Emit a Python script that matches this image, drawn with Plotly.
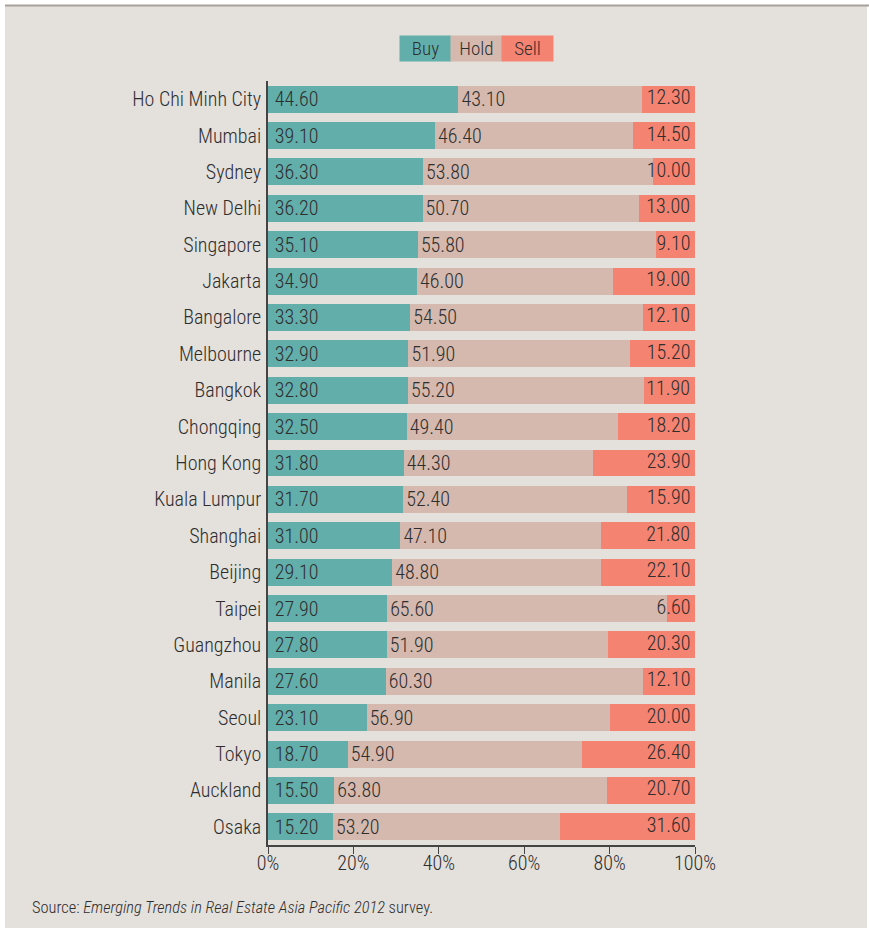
import plotly.graph_objects as go

cities = ["Ho Chi Minh City", "Mumbai", "Sydney", "New Delhi", "Singapore", "Jakarta",
          "Bangalore", "Melbourne", "Bangkok", "Chongqing", "Hong Kong", "Kuala Lumpur",
          "Shanghai", "Beijing", "Taipei", "Guangzhou", "Manila", "Seoul", "Tokyo",
          "Auckland", "Osaka"]
buy = [44.60, 39.10, 36.30, 36.20, 35.10, 34.90, 33.30, 32.90, 32.80, 32.50, 31.80,
       31.70, 31.00, 29.10, 27.90, 27.80, 27.60, 23.10, 18.70, 15.50, 15.20]
hold = [43.10, 46.40, 53.80, 50.70, 55.80, 46.00, 54.50, 51.90, 55.20, 49.40, 44.30,
        52.40, 47.10, 48.80, 65.60, 51.90, 60.30, 56.90, 54.90, 63.80, 53.20]
sell = [12.30, 14.50, 10.00, 13.00, 9.10, 19.00, 12.10, 15.20, 11.90, 18.20, 23.90,
        15.90, 21.80, 22.10, 6.60, 20.30, 12.10, 20.00, 26.40, 20.70, 31.60]
x_ticks = [0, 20, 40, 60, 80, 100]

colors = {"Buy": "#62aeab", "Hold": "#d5b9ae", "Sell": "#f58371"}
FONT = "Roboto Condensed, DejaVu Sans Condensed, Liberation Sans Narrow, Roboto, sans-serif"
TXT = "#2e2e2e"
BG = "#e4e0dc"
WEIGHT = 300

W, H = 869, 928
L, R, T, B = 268, 174, 81, 83
pw, ph = W - L - R, H - T - B


def px_x(p):
    return (p - L) / pw


def px_y(p):
    return (H - B - p) / ph


def tfont(size):
    return dict(family=FONT, size=size, color=TXT, weight=WEIGHT)


fig = go.Figure()
for name, vals, tmpl in [("Buy", buy, "\u2009%{x:.2f}"), ("Hold", hold, "%{x:.2f}")]:
    fig.add_trace(go.Bar(
        y=cities, x=vals, name=name, orientation="h",
        marker=dict(color=colors[name], line=dict(width=0)),
        texttemplate=tmpl, textposition="inside", insidetextanchor="start",
        constraintext="none", insidetextfont=tfont(20),
        showlegend=False,
    ))
fig.add_trace(go.Bar(
    y=cities, x=sell, name="Sell", orientation="h",
    marker=dict(color=colors["Sell"], line=dict(width=0)),
    textposition="none", showlegend=False,
))
# sell labels sit right-aligned at the end of each stack (they may overflow into Hold);
# a few rows sum to 100.1 because of rounding, so pin them to the 100% edge
ends = [min(b + h + s, 100) for b, h, s in zip(buy, hold, sell)]
fig.add_trace(go.Scatter(
    y=cities, x=ends, mode="text", text=[f"{s:.2f}&nbsp;" for s in sell],
    textposition="middle left", cliponaxis=False,
    textfont=tfont(20), showlegend=False, hoverinfo="skip",
))

# legend as coloured boxes with the label inside
for i, name in enumerate(["Buy", "Hold", "Sell"]):
    fig.add_annotation(
        x=px_x(425.5 + 51 * i), y=px_y(48.5), xref="paper", yref="paper",
        xanchor="center", yanchor="middle",
        text=name, showarrow=False, width=47, height=21, bgcolor=colors[name],
        borderpad=2, font=tfont(19),
    )

fig.add_annotation(
    x=px_x(30), y=px_y(907), xref="paper", yref="paper", xanchor="left", yanchor="middle",
    text="Source: <i>Emerging Trends in Real Estate Asia Pacific 2012</i> survey.",
    showarrow=False, font=tfont(16.4),
)

# panel background with white edge and grey top rule
fig.add_shape(type="rect", xref="paper", yref="paper", layer="below",
              x0=px_x(5), x1=px_x(867), y0=px_y(H + 5), y1=px_y(6),
              fillcolor=BG, line=dict(width=0))
fig.add_shape(type="line", xref="paper", yref="paper", layer="below",
              x0=px_x(5), x1=px_x(W + 5), y0=px_y(5.5), y1=px_y(5.5),
              line=dict(color="#a8a09a", width=2))

fig.update_layout(
    width=W, height=H, barmode="stack", bargap=0.26,
    margin=dict(l=L, r=R, t=T, b=B, pad=0),
    paper_bgcolor="white", plot_bgcolor=BG,
    font=tfont(20),
    xaxis=dict(range=[0, 100], tickvals=x_ticks, ticktext=[f"{v}%" for v in x_ticks],
               showgrid=False, zeroline=False, showline=True, linecolor="#444",
               linewidth=1.5, ticks="outside", ticklen=7, tickcolor="#444",
               ticklabelstandoff=-8, tickfont=tfont(20)),
    yaxis=dict(range=[len(cities) - 0.5, -0.5], showgrid=False, zeroline=False,
               showline=True, linecolor="#444", linewidth=1.5, ticks="",
               ticklabelstandoff=1, tickfont=tfont(20)),
)

fig.write_html("out.html", config={"displayModeBar": False},
               post_script="document.body.style.margin='0';")
